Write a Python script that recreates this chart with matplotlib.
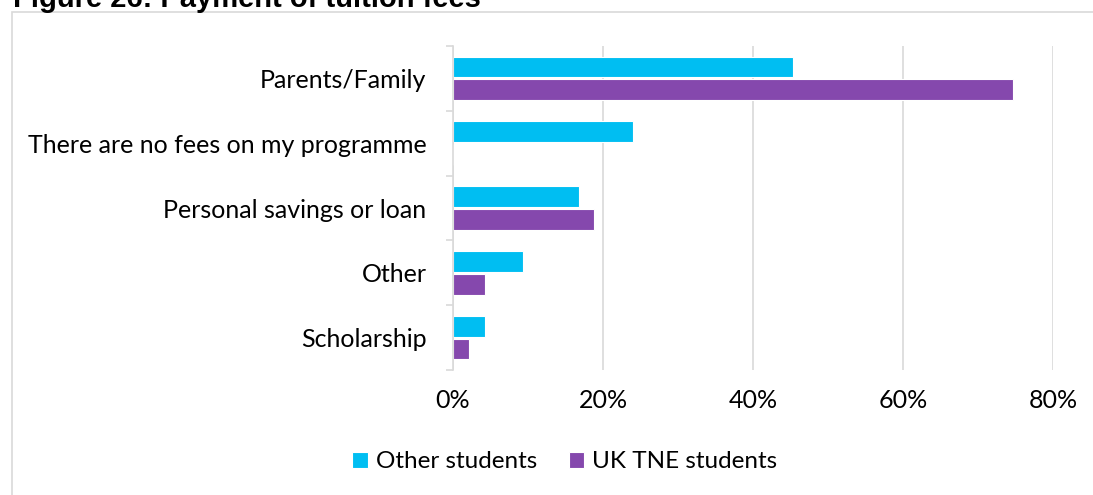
import numpy as np
import matplotlib
matplotlib.use('Agg')
import matplotlib.pyplot as plt
from matplotlib.patches import Rectangle
from matplotlib.ticker import FuncFormatter, FixedLocator

# data, top to bottom
categories = ['Parents/Family', 'There are no fees on my programme',
              'Personal savings or loan', 'Other', 'Scholarship']
other_students = [0.453, 0.240, 0.168, 0.093, 0.042]
uk_tne_students = [0.746, 0.0, 0.188, 0.043, 0.021]
series_names = ['Other students', 'UK TNE students']
x_ticks = [0, 0.2, 0.4, 0.6, 0.8]

BLUE = '#00bef2'
PURPLE = '#8548ad'
GRID = '#d9d9d9'

plt.rcParams['font.family'] = ['Lato', 'DejaVu Sans']

W, H = 1093, 495
fig = plt.figure(figsize=(W / 100, H / 100), dpi=100)

# outer frame, partly cut by the image edges
fig.patches.append(Rectangle((12 / W, -0.1), 1.2, 1 - 12 / H + 0.1,
                             transform=fig.transFigure, fill=False,
                             edgecolor=GRID, linewidth=1.2))
fig.text(13 / W, 1 - 7 / H, 'Figure 26: Payment of tuition fees',
         family='Liberation Sans', weight='bold', fontsize=21,
         ha='left', va='baseline', color='black')

ax = fig.add_axes([453 / W, 1 - 370 / H, 600 / W, 324 / H])

n = len(categories)
y = np.arange(n)
bh = 0.32
ax.barh(y - bh / 2 - 0.015, other_students, height=bh, color=BLUE,
        edgecolor='white', linewidth=0.8, label=series_names[0])
ax.barh(y + bh / 2 + 0.015, uk_tne_students, height=bh, color=PURPLE,
        edgecolor='white', linewidth=0.8, label=series_names[1])

ax.set_ylim(n - 0.5, -0.5)
ax.set_xlim(0, 0.8)
ax.set_yticks(y)
ax.set_yticklabels(categories, fontsize=18)
ax.yaxis.set_minor_locator(FixedLocator(np.arange(-0.5, n, 1.0)))
ax.tick_params(axis='y', which='major', length=0, pad=19)
ax.tick_params(axis='y', which='minor', length=5, color=GRID, width=1.2)

ax.set_xticks(x_ticks)
ax.xaxis.set_major_formatter(FuncFormatter(lambda v, p: f'{v * 100:.0f}%'))
ax.tick_params(axis='x', length=0, pad=14, labelsize=18)

ax.grid(axis='x', color=GRID, linewidth=1.2)
ax.set_axisbelow(True)
for s in ['top', 'right', 'bottom']:
    ax.spines[s].set_visible(False)
ax.spines['left'].set_color(GRID)
ax.spines['left'].set_linewidth(1.2)

leg = fig.legend(loc='center', bbox_to_anchor=(565 / W, 1 - 462 / H),
                 ncol=2, frameon=False, fontsize=17.5, handlelength=0.62,
                 handleheight=0.62, handletextpad=0.35, columnspacing=1.3)

fig.savefig('out.png', dpi=100)
